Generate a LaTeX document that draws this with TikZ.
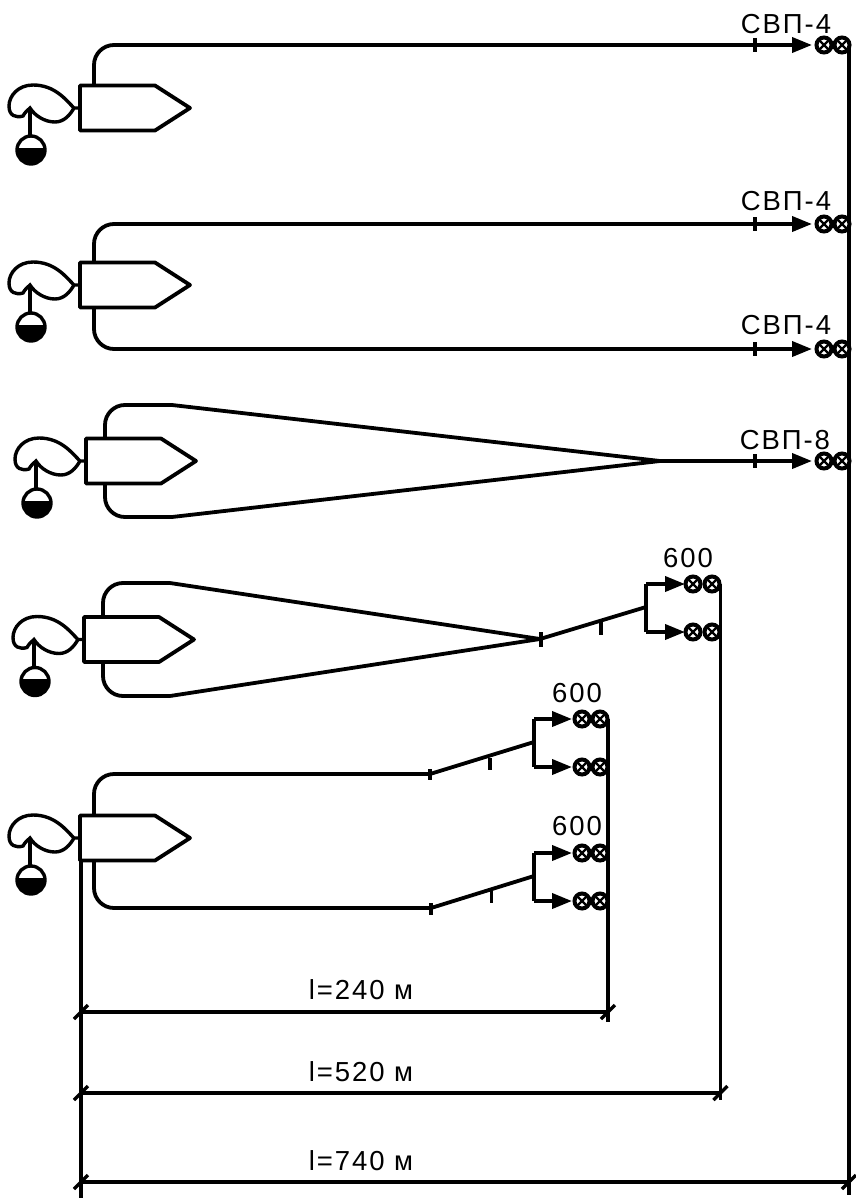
\documentclass[tikz,border=0pt]{standalone}
\usepackage{fontspec}
\setmainfont[LetterSpace=7]{Liberation Sans}
\usetikzlibrary{arrows.meta}
\tikzset{
  x=1pt,y=-1pt,
  pipe/.style={line width=3.8pt,line join=round},
  rnd/.style={pipe,rounded corners=20pt},
  lbl/.style={inner sep=0pt,font=\fontsize{27.5}{30}\selectfont},
  flow/.style={pipe,-{Triangle[length=20pt,width=15pt]}},
  tick/.style={line width=3.2pt},
  slash/.style={line width=3.4pt},
  nozzle/.pic={
    \draw[line width=4pt,fill=white] (0,0) circle (7.5);
    \draw[line width=2.4pt] (-5,-5)--(5,5) (-5,5)--(5,-5);
  },
  gun/.pic={
    \draw[pipe,fill=white] (0,-22.5) -- (75,-22.5) -- (110,0) -- (75,22.5) -- (0,22.5) -- cycle;
    \draw[line width=3.4pt] (0,0) -- (-6,0)
       .. controls (-14,-8) and (-25,-23) .. (-47,-23)
       .. controls (-62,-23) and (-71,-12) .. (-71,-2)
       .. controls (-71,8) and (-64,10) .. (-57,8)
       .. controls (-55,4) and (-52,2) .. (-50,0)
       .. controls (-45,8) and (-35,14) .. (-25,14)
       .. controls (-16,14) and (-10,7) .. (-6,0);
    \draw[pipe] (-50,0) -- (-50,28);
    \begin{scope}
      \clip (-49,42) circle (14);
      \fill (-65,39.5) rectangle (-33,58);
    \end{scope}
    \draw[line width=3.4pt] (-49,42) circle (14);
  },
}
\begin{document}
\begin{tikzpicture}
\useasboundingbox (0,0) rectangle (855,1199);
% Guns
\pic (g1) at (80,108) {gun};
\pic (g2) at (80,285) {gun};
\pic (g3) at (86,461) {gun};
\pic (g4) at (84,639.5) {gun};
\pic (g5) at (80,838) {gun};
% Nozzle positions
\foreach \n/\x/\y in {a1/824/45,a2/842/45,b1/824/224,b2/842/224,c1/824/349,c2/842/349,d1/824/461,d2/842/461,
  e1/693/584,e2/712/584,f1/693/632,f2/712/632,
  h1/582/719,h2/600/719,i1/582/767,i2/600/767,j1/582/853,j2/600/853,k1/582/901,k2/600/901}
  \coordinate (\n) at (\x,\y);
% Reference points
\coordinate (t1) at (812,45);
\coordinate (t2) at (812,224);
\coordinate (t3) at (812,349);
\coordinate (t4) at (812,461);
\coordinate (m3) at (660,461);
\coordinate (m4) at (540,639);
\coordinate (b4) at (646,607);
\coordinate (m5a) at (430,774);
\coordinate (b5a) at (534,742);
\coordinate (m5b) at (431,908);
\coordinate (b5b) at (534,876);
% Row 1
\draw[rnd,flow] (94,85) -- (94,45) -- (t1);
% Row 2
\draw[rnd,flow] (94,262) -- (94,224) -- (t2);
\draw[rnd,flow] (94,308) -- (94,349) -- (t3);
% Row 3
\draw[rnd] (105,438) -- (105,405) -- (172,405);
\draw[rnd] (105,484) -- (105,517) -- (172,517);
\draw[pipe] (172,405) -- (m3) -- (172,517);
\draw[flow] (m3) -- (t4);
% Row 4
\draw[rnd] (103,617) -- (103,583) -- (170,583);
\draw[rnd] (103,662) -- (103,696) -- (170,696);
\draw[pipe] (170,583) -- (m4) -- (170,696);
\draw[pipe] (m4) -- (b4);
\draw[pipe] (b4 |- f1) -- (b4 |- e1);
\draw[flow] (b4 |- e1) -- (685,584);
\draw[flow] (b4 |- f1) -- (685,632);
% Row 5
\draw[rnd] (94,815) -- (94,774) -- (m5a);
\draw[pipe] (m5a) -- (b5a);
\draw[rnd] (94,861) -- (94,908) -- (m5b);
\draw[pipe] (m5b) -- (b5b);
\draw[pipe] (b5a |- h1) -- (b5a |- i1);
\draw[flow] (b5a |- h1) -- (572,719);
\draw[flow] (b5a |- i1) -- (572,767);
\draw[pipe] (b5b |- j1) -- (b5b |- k1);
\draw[flow] (b5b |- j1) -- (572,853);
\draw[flow] (b5b |- k1) -- (572,901);
% Ticks
\foreach \x/\a/\b in {755/38/52,755/217/231,755/342/356,755/454/468,541/632/647,601/620/635,430/769/780,490/758/770,431/903/915,491.5/890/903}
  \draw[tick] (\x,\a) -- (\x,\b);
% Collector lines
\coordinate (rt) at (849,45);
\coordinate (mt) at (720.5,584);
\coordinate (st) at (608,719);
\draw[pipe] (rt) -- (849,1195);
\draw[pipe] (mt) -- (720.5,1100);
\draw[pipe] (st) -- (608,1022);
\draw[pipe] (81,860) -- (81,1198);
% Nozzles
\foreach \n in {a1,a2,b1,b2,c1,c2,d1,d2,e1,e2,f1,f2,h1,h2,i1,i2,j1,j2,k1,k2}
  \pic at (\n) {nozzle};
% Dimension lines
\coordinate (d1l) at (81,1012); \coordinate (d1r) at (608,1012);
\coordinate (d2l) at (81,1093); \coordinate (d2r) at (720.5,1093);
\coordinate (d3l) at (81,1182); \coordinate (d3r) at (849,1182);
\draw[pipe] (d1l) -- (d1r);
\draw[pipe] (d2l) -- (d2r);
\draw[pipe] (d3l) -- (d3r);
\foreach \c in {d1l,d1r,d2l,d2r,d3l,d3r}
  \draw[slash] (\c) ++(-7,7) -- ++(14,-14);
% Labels
\node[lbl] (l1) at (786,24) {СВП-4};
\node[lbl] (l2) at (786,201) {СВП-4};
\node[lbl] (l3) at (786,325) {СВП-4};
\node[lbl] (l4) at (785,440) {СВП-8};
\node[lbl] (l5) at (688,558) {600};
\node[lbl] (l6) at (577,693) {600};
\node[lbl] (l7) at (577,826.5) {600};
\node[lbl] (l8) at (361,990) {l=240 м};
\node[lbl] (l9) at (361,1072) {l=520 м};
\node[lbl] (l10) at (361,1161) {l=740 м};
\end{tikzpicture}
\end{document}
